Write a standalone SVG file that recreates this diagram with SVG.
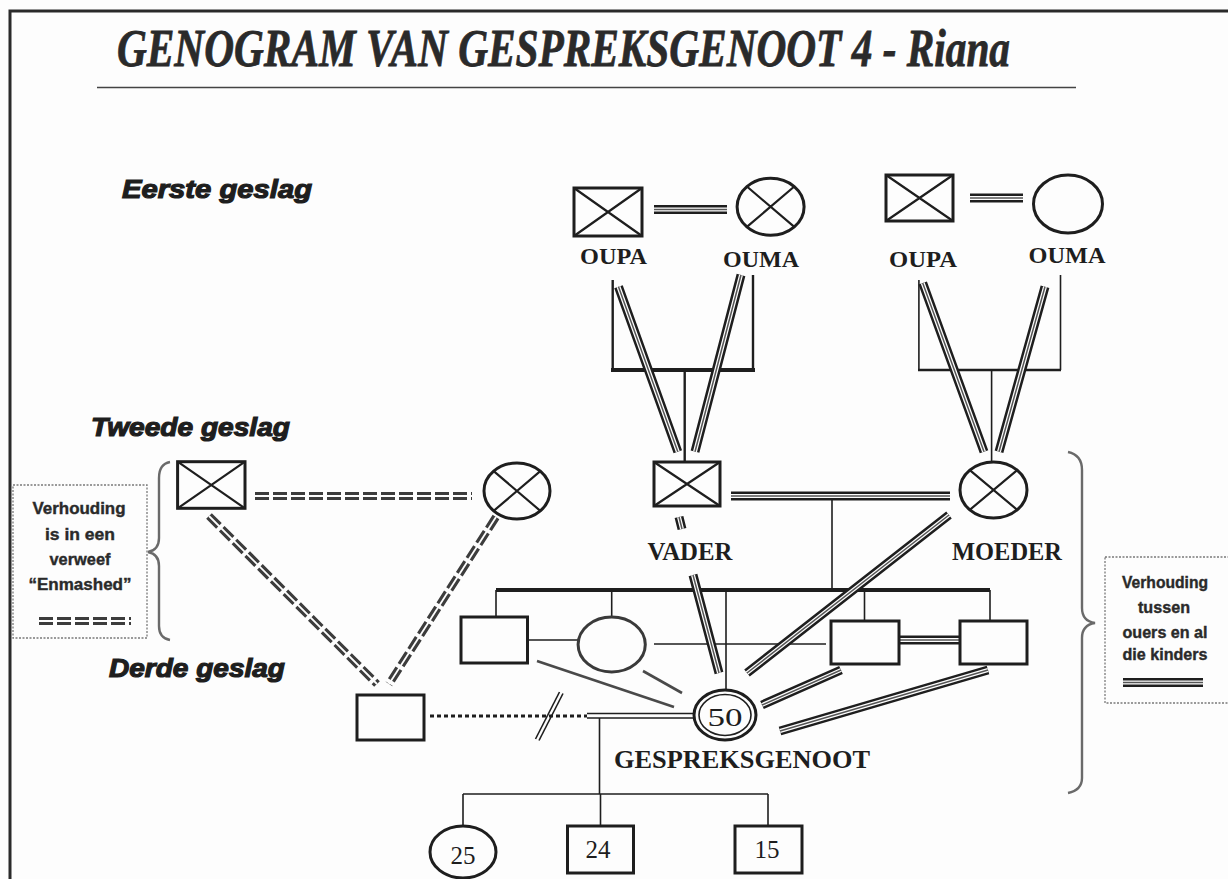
<svg xmlns="http://www.w3.org/2000/svg" width="1228" height="879" viewBox="0 0 1228 879">
<style>
.bg{fill:#fdfdfd}
.frame{stroke:#2a2a2a;stroke-width:3;fill:none}
.rule{stroke:#444;stroke-width:1.6}
.title{font-family:"Liberation Serif",serif;font-weight:bold;font-style:italic;font-size:47px;fill:#2a2a2a;stroke:#2a2a2a;stroke-width:0.7}
.gen{font-family:"Liberation Sans",Arial,sans-serif;font-weight:bold;font-style:italic;font-size:26px;fill:#1e1e1e;stroke:#1e1e1e;stroke-width:1.2}
.lbl{font-family:"Liberation Serif",serif;font-weight:bold;font-size:24px;fill:#1e1e1e;text-anchor:middle}
.big{font-size:26px}
.num{font-family:"Liberation Serif",serif;font-size:25px;fill:#1e1e1e;text-anchor:middle}
.note{font-family:"Liberation Sans",Arial,sans-serif;font-weight:bold;font-size:17px;fill:#2a2a2a;stroke:#2a2a2a;stroke-width:0.4;text-anchor:middle}
.node{fill:none;stroke:#1e1e1e;stroke-width:3}
.gnode{fill:none;stroke:#3a3a3a;stroke-width:3}
.x{stroke:#1e1e1e;stroke-width:2.2}
.thin{stroke:#1e1e1e;stroke-width:1.6;fill:none}
.med{stroke:#1e1e1e;stroke-width:2.4;fill:none}
.thick{stroke:#1e1e1e;stroke-width:4;fill:none}
.grey{stroke:#4a4a4a;stroke-width:2.6;fill:none}
.dot{stroke:#1e1e1e;stroke-width:3.2;stroke-dasharray:4 3;fill:none}
.t1{stroke:#1e1e1e;stroke-width:9;fill:none}
.t2{stroke:#fdfdfd;stroke-width:4;fill:none}
.t3{stroke:#555;stroke-width:1.5;fill:none}
.e1{stroke:#3c3c3c;stroke-width:8;stroke-dasharray:14 4;fill:none}
.e2{stroke:#fdfdfd;stroke-width:1.8;fill:none}
.brace{stroke:#6a6a6a;stroke-width:2.4;fill:none}
.box{fill:none;stroke:#7a7a7a;stroke-width:1.3;stroke-dasharray:2 1.5}
</style>
<rect class="bg" x="0" y="0" width="1228" height="879"/>
<path class="frame" d="M10,879 V11 H1228"/>
<text class="title" transform="translate(117,66) scale(1,1.12)" x="0" y="0" textLength="893" lengthAdjust="spacingAndGlyphs">GENOGRAM VAN GESPREKSGENOOT 4 - Riana</text>
<line class="rule" x1="97" y1="87.5" x2="1076" y2="87.5"/>

<text class="gen" x="122" y="198" textLength="190" lengthAdjust="spacingAndGlyphs">Eerste geslag</text>
<text class="gen" x="91" y="436" textLength="199" lengthAdjust="spacingAndGlyphs">Tweede geslag</text>
<text class="gen" x="109" y="677" textLength="176" lengthAdjust="spacingAndGlyphs">Derde geslag</text>

<g id="connectors">
  <line class="med" x1="612.7" y1="280" x2="612.7" y2="370"/>
  <line class="med" x1="753" y1="275" x2="753" y2="370"/>
  <line class="thick" x1="611" y1="370" x2="755" y2="370"/>
  <line class="med" x1="684.7" y1="370" x2="684.7" y2="462"/>
  <line class="thin" x1="918.9" y1="280" x2="918.9" y2="370"/>
  <line class="thin" x1="1060.5" y1="275" x2="1060.5" y2="370"/>
  <line class="med" x1="918" y1="370" x2="1061" y2="370"/>
  <line class="thin" x1="991.6" y1="370" x2="991.6" y2="462"/>
  <line class="thin" x1="832" y1="500" x2="832" y2="590"/>
  <line class="thick" x1="496" y1="590" x2="990" y2="590"/>
  <line class="thin" x1="496" y1="590" x2="496" y2="617"/>
  <line class="thin" x1="611.7" y1="590" x2="611.7" y2="617"/>
  <line class="thin" x1="726" y1="590" x2="726" y2="690"/>
  <line class="thin" x1="864.5" y1="590" x2="864.5" y2="621"/>
  <line class="thin" x1="990" y1="590" x2="990" y2="621"/>
  <line class="thin" x1="527.5" y1="640" x2="578" y2="640"/>
  <line class="thin" x1="654" y1="644" x2="826" y2="644"/>
  <line class="grey" x1="537" y1="661" x2="674" y2="707"/>
  <line class="grey" x1="643" y1="671" x2="682" y2="693"/>
  <line class="dot" x1="430" y1="716" x2="587" y2="716"/>
  <line class="thin" x1="587" y1="713.5" x2="695" y2="713.5"/>
  <line class="thin" x1="587" y1="718" x2="695" y2="718"/>
  <line class="thin" x1="535.5" y1="739" x2="559.5" y2="692"/>
  <line class="thin" x1="539" y1="740.5" x2="563" y2="693.5"/>
  <line class="thin" x1="599.5" y1="718" x2="599.5" y2="794"/>
  <line class="thin" x1="463" y1="794" x2="768" y2="794"/>
  <line class="thin" x1="463" y1="794" x2="463" y2="826"/>
  <line class="thin" x1="600.5" y1="794" x2="600.5" y2="826"/>
  <line class="thin" x1="768" y1="794" x2="768" y2="826"/>
  <line class="e1" x1="255" y1="496" x2="472" y2="496"/>
  <line class="e2" x1="255" y1="496" x2="472" y2="496"/>
  <line class="e1" x1="209" y1="516" x2="377" y2="684"/>
  <line class="e2" x1="209" y1="516" x2="377" y2="684"/>
  <line class="e1" x1="496" y1="517" x2="389" y2="684"/>
  <line class="e2" x1="496" y1="517" x2="389" y2="684"/>
  <line class="e1" x1="39" y1="621" x2="131" y2="621"/>
  <line class="e2" x1="39" y1="621" x2="131" y2="621"/>
  <g>
    <path class="t1" d="M654,209.5H727 M970,198H1023 M618.5,286.7L677.8,451.7 M741,275L695,451.7 M922.7,283L984,451.7 M1045,286.7L999,451.7 M731,496H950 M679,517L682,529 M693,575L719,673 M949,515L747,673 M899,640H960 M841,670L762,705 M988,670L780,731 M1123,682.5H1203"/>
    <path class="t2" d="M654,209.5H727 M970,198H1023 M618.5,286.7L677.8,451.7 M741,275L695,451.7 M922.7,283L984,451.7 M1045,286.7L999,451.7 M731,496H950 M679,517L682,529 M693,575L719,673 M949,515L747,673 M899,640H960 M841,670L762,705 M988,670L780,731 M1123,682.5H1203"/>
    <path class="t3" d="M654,209.5H727 M970,198H1023 M618.5,286.7L677.8,451.7 M741,275L695,451.7 M922.7,283L984,451.7 M1045,286.7L999,451.7 M731,496H950 M679,517L682,529 M693,575L719,673 M949,515L747,673 M899,640H960 M841,670L762,705 M988,670L780,731 M1123,682.5H1203"/>
  </g>
  <path class="brace" d="M170,462 Q159,464 159,478 V538 Q159,550 148,552 Q159,554 159,566 V626 Q159,638 170,640"/>
  <path class="brace" d="M1068,452 Q1082,455 1082,470 V608 Q1082,621 1095,623 Q1082,625 1082,638 V778 Q1082,790 1068,793"/>
</g>

<g id="oupa1"><rect class="node" x="574" y="188" width="68" height="48"/><path class="x" d="M574,188L642,236M642,188L574,236"/><text class="lbl" x="613.5" y="264" textLength="67" lengthAdjust="spacingAndGlyphs">OUPA</text></g>
<g id="ouma1"><ellipse class="node" cx="770.6" cy="206.7" rx="33.5" ry="28.5"/><path class="x" d="M746.9,186.5L794.3,226.9M794.3,186.5L746.9,226.9"/><text class="lbl" x="761" y="267" textLength="76" lengthAdjust="spacingAndGlyphs">OUMA</text></g>
<g id="oupa2"><rect class="node" x="886" y="175" width="67" height="46"/><path class="x" d="M886,175L953,221M953,175L886,221"/><text class="lbl" x="923" y="267" textLength="68" lengthAdjust="spacingAndGlyphs">OUPA</text></g>
<g id="ouma2"><ellipse class="node" cx="1068" cy="204" rx="34.5" ry="29"/><text class="lbl" x="1067" y="263" textLength="77" lengthAdjust="spacingAndGlyphs">OUMA</text></g>

<g id="tweede-man"><rect class="node" x="177.6" y="461.7" width="67.4" height="46.6"/><path class="x" d="M177.6,461.7L245,508.3M245,461.7L177.6,508.3"/></g>
<g id="tweede-vrou"><ellipse class="node" cx="517" cy="491" rx="33" ry="28"/><path class="x" d="M493.7,471.2L540.3,510.8M540.3,471.2L493.7,510.8"/></g>
<g id="vader"><rect class="node" x="654" y="462" width="66" height="44"/><path class="x" d="M654,462L720,506M720,462L654,506"/><text class="lbl big" x="690" y="560" textLength="85" lengthAdjust="spacingAndGlyphs">VADER</text></g>
<g id="moeder"><ellipse class="node" cx="993.5" cy="490" rx="33.5" ry="28"/><path class="x" d="M969.8,470.2L1017.2,509.8M1017.2,470.2L969.8,509.8"/><text class="lbl big" x="1007" y="560" textLength="110" lengthAdjust="spacingAndGlyphs">MOEDER</text></g>

<g id="sibling1"><rect class="node" x="461" y="617" width="66.5" height="46"/></g>
<g id="sibling2"><ellipse class="gnode" cx="611.7" cy="644.5" rx="33.6" ry="27.5"/></g>
<g id="sibling3"><rect class="node" x="831" y="621" width="68" height="43"/></g>
<g id="sibling4"><rect class="node" x="960" y="621" width="67" height="43"/></g>

<g id="partner"><rect class="node" x="357" y="695" width="67" height="45"/></g>
<g id="gespreksgenoot"><ellipse class="node" cx="725" cy="715" rx="31" ry="25"/><ellipse class="thin" cx="725" cy="715" rx="26" ry="20.5"/><text class="num" x="725" y="726" font-size="29" textLength="35" lengthAdjust="spacingAndGlyphs">50</text><text class="lbl big" x="742" y="768" textLength="256" lengthAdjust="spacingAndGlyphs">GESPREKSGENOOT</text></g>

<g id="kind25"><ellipse class="node" cx="463" cy="852" rx="33" ry="26"/><text class="num" x="463" y="864">25</text></g>
<g id="kind24"><rect class="node" x="567.5" y="826" width="66" height="47"/><text class="num" x="598" y="858">24</text></g>
<g id="kind15"><rect class="node" x="735" y="826" width="67" height="47"/><text class="num" x="767" y="858">15</text></g>

<g id="nota-links">
  <rect class="box" x="13" y="485" width="134" height="153"/>
  <text class="note" x="79" y="514" textLength="93" lengthAdjust="spacingAndGlyphs">Verhouding</text>
  <text class="note" x="80" y="540" textLength="70" lengthAdjust="spacingAndGlyphs">is in een</text>
  <text class="note" x="80" y="565" textLength="61" lengthAdjust="spacingAndGlyphs">verweef</text>
  <text class="note" x="80" y="590" textLength="103" lengthAdjust="spacingAndGlyphs">“Enmashed”</text>
</g>
<g id="nota-regs">
  <rect class="box" x="1105" y="557" width="130" height="146"/>
  <text class="note" x="1165" y="588" textLength="86" lengthAdjust="spacingAndGlyphs">Verhouding</text>
  <text class="note" x="1164" y="613" textLength="52" lengthAdjust="spacingAndGlyphs">tussen</text>
  <text class="note" x="1165" y="638" textLength="85" lengthAdjust="spacingAndGlyphs">ouers en al</text>
  <text class="note" x="1165" y="660" textLength="85" lengthAdjust="spacingAndGlyphs">die kinders</text>
</g>
</svg>
